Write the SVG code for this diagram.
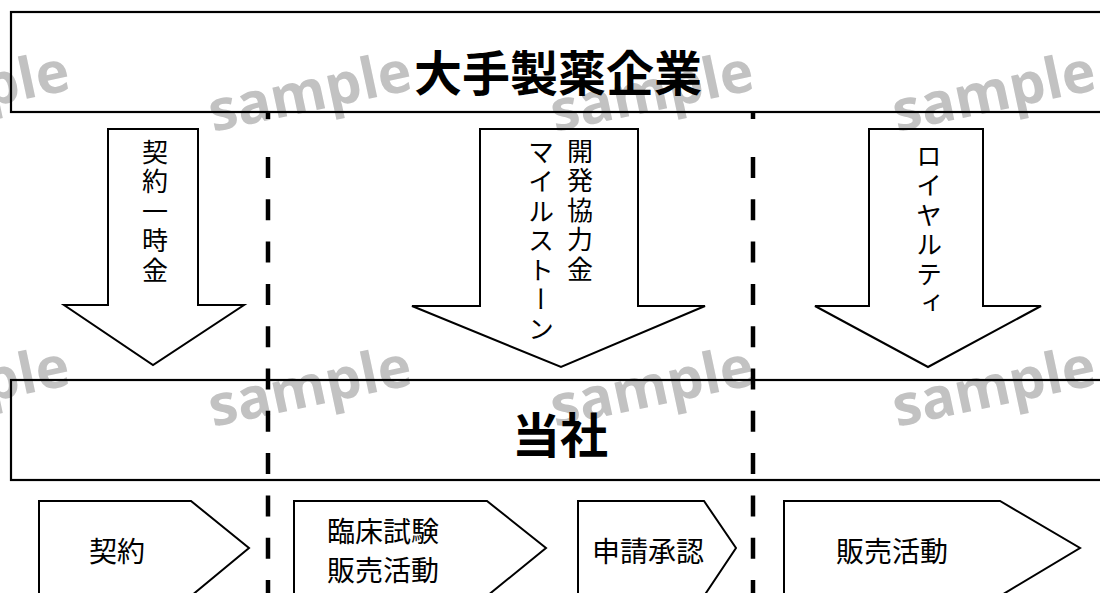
<svg xmlns="http://www.w3.org/2000/svg" width="1100" height="593" viewBox="0 0 1100 593">
<style>
.wm{font-family:"Open Sans","Liberation Sans",sans-serif;font-weight:700;font-size:57px;fill:#c2c2c2}
.box{fill:none;stroke:#000;stroke-width:2.2}
.shape{fill:none;stroke:#000;stroke-width:2;stroke-linejoin:miter}
.dash{stroke:#000;stroke-width:4.5;fill:none}
.jp{font-family:"Noto Sans CJK JP","Noto Sans CJK SC",sans-serif;fill:#000}
.big{font-size:48px;font-weight:700;text-anchor:middle;dominant-baseline:central}
.lab{font-size:28px;dominant-baseline:central}
.vt{font-size:26px;writing-mode:vertical-rl;letter-spacing:3.5px}
</style>
<rect x="0" y="0" width="1100" height="593" fill="#fff"/>
<g id="watermarks">
<text class="wm" transform="translate(-129,132) rotate(-12)">sample</text>
<text class="wm" transform="translate(213,132) rotate(-12)">sample</text>
<text class="wm" transform="translate(555,132) rotate(-12)">sample</text>
<text class="wm" transform="translate(897,132) rotate(-12)">sample</text>
<text class="wm" transform="translate(-129,427) rotate(-12)">sample</text>
<text class="wm" transform="translate(213,427) rotate(-12)">sample</text>
<text class="wm" transform="translate(555,427) rotate(-12)">sample</text>
<text class="wm" transform="translate(897,427) rotate(-12)">sample</text>
</g>
<g id="dividers">
<line class="dash" x1="268" y1="111" x2="268" y2="119"/>
<line class="dash" x1="268" y1="157" x2="268" y2="593" stroke-dasharray="21 21.3"/>
<line class="dash" x1="753" y1="111" x2="753" y2="119"/>
<line class="dash" x1="753" y1="157" x2="753" y2="593" stroke-dasharray="21 21.3"/>
</g>
<g id="pharma">
<rect class="box" x="11" y="12" width="1100" height="100"/>
<text class="jp big" x="558" y="70">大手製薬企業</text>
</g>
<g id="company">
<rect class="box" x="11" y="380" width="1100" height="100"/>
<text class="jp big" x="560" y="432">当社</text>
</g>
<g id="connectors">
<g id="arrow-upfront">
<polygon class="shape" points="108,129 198,129 198,305 244,305 153,365 64,305 108,305"/>
<text class="jp vt" x="155" y="139">契約一時金</text>
</g>
<g id="arrow-milestone">
<polygon class="shape" points="480,129 638,129 638,306 705,306 561,367 412,306 480,306"/>
<text class="jp vt" x="580" y="138">開発協力金</text>
<text class="jp vt" x="541" y="139">マイルストーン</text>
</g>
<g id="arrow-royalty">
<polygon class="shape" points="869,129 983,129 983,306 1041,306 928,367 815,306 869,306"/>
<text class="jp vt" x="929" y="143">ロイヤルティ</text>
</g>
</g>
<g id="step-contract">
<polygon class="shape" points="39,596 39,501 191,501 249,548 191,596"/>
<text class="jp lab" x="117" y="550" text-anchor="middle">契約</text>
</g>
<g id="step-clinical">
<polygon class="shape" points="294,596 294,501 487,501 546,548 487,596"/>
<text class="jp lab" x="327" y="530">臨床試験</text>
<text class="jp lab" x="327" y="569">販売活動</text>
</g>
<g id="step-approval">
<polygon class="shape" points="578,596 578,501 704,501 736,548 704,596"/>
<text class="jp lab" x="648" y="550" text-anchor="middle">申請承認</text>
</g>
<g id="step-sales">
<polygon class="shape" points="784,596 784,501 1000,501 1080,548 1000,596"/>
<text class="jp lab" x="892" y="550" text-anchor="middle">販売活動</text>
</g>
</svg>
